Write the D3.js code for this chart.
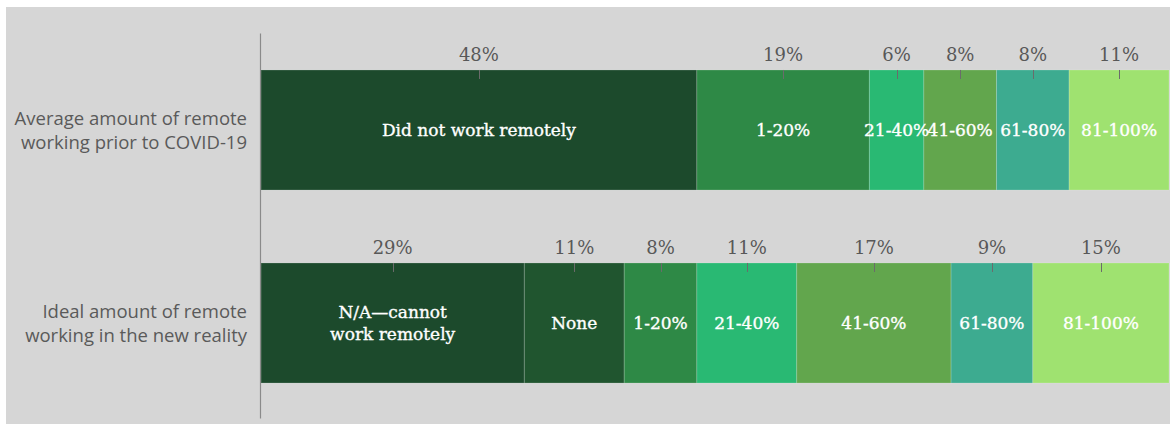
<!DOCTYPE html>
<html>
<head>
<meta charset="utf-8">
<script src="https://cdn.jsdelivr.net/npm/d3@7"></script>
<style>
  html, body { margin: 0; padding: 0; background: #ffffff; }
  svg { display: block; }
</style>
</head>
<body>
<script>
// rows of the chart (category axis)
const rowNames = ["prior", "ideal"];
const rowLabels = [
  ["Average amount of remote", "working prior to COVID-19"],
  ["Ideal amount of remote", "working in the new reality"]
];

// segments per row
const priorSegments = ["Did not work remotely", "1-20%", "21-40%", "41-60%", "61-80%", "81-100%"];
const priorValues = [48, 19, 6, 8, 8, 11];

const idealSegments = ["N/A\u2014cannot\nwork remotely", "None", "1-20%", "21-40%", "41-60%", "61-80%", "81-100%"];
const idealValues = [29, 11, 8, 11, 17, 9, 15];

// colour per segment name
const segmentColors = {
  "Did not work remotely": "#1c4a2c",
  "N/A\u2014cannot\nwork remotely": "#1c4a2c",
  "None": "#20552f",
  "1-20%": "#2e8946",
  "21-40%": "#29b973",
  "41-60%": "#62a64d",
  "61-80%": "#3dab90",
  "81-100%": "#9fe270"
};

const width = 1170;
const height = 426;

const svg = d3
  .select("body")
  .append("svg")
  .attr("width", width)
  .attr("height", height);

// grey panel
svg
  .append("rect")
  .attr("x", 6)
  .attr("y", 7)
  .attr("width", width - 6)
  .attr("height", 417)
  .attr("fill", "#d6d6d6");

const x = d3.scaleLinear().domain([0, 100]).range([261, 1169]);
const y = d3
  .scaleBand()
  .domain(rowNames)
  .range([33.5, 419.5])
  .paddingInner(0.378)
  .paddingOuter(0.189);

// build stacked data for each row
function stackRow(row, names, values) {
  let start = 0;
  return names.map((name, i) => {
    const d = { row: row, name: name, value: values[i], x0: start, x1: start + values[i] };
    start += values[i];
    return d;
  });
}
const segments = stackRow("prior", priorSegments, priorValues).concat(
  stackRow("ideal", idealSegments, idealValues)
);

// bars
svg
  .append("g")
  .selectAll("rect")
  .data(segments)
  .enter()
  .append("rect")
  .attr("x", (d) => x(d.x0))
  .attr("y", (d) => y(d.row))
  .attr("width", (d) => x(d.x1) - x(d.x0))
  .attr("height", y.bandwidth())
  .attr("fill", (d) => segmentColors[d.name])
  .attr("stroke", "rgba(255,255,255,0.18)")
  .attr("stroke-width", 1);

// axis line
svg
  .append("line")
  .attr("x1", x(0) - 0.5)
  .attr("x2", x(0) - 0.5)
  .attr("y1", y.range()[0])
  .attr("y2", y.range()[1] - 1)
  .attr("stroke", "#8a8a8a")
  .attr("stroke-width", 1.2);

// small ticks at the top of each segment
svg
  .append("g")
  .selectAll("line")
  .data(segments)
  .enter()
  .append("line")
  .attr("x1", (d) => Math.round(x((d.x0 + d.x1) / 2)) + 0.5)
  .attr("x2", (d) => Math.round(x((d.x0 + d.x1) / 2)) + 0.5)
  .attr("y1", (d) => y(d.row))
  .attr("y2", (d) => y(d.row) + 9)
  .attr("stroke", "#6b6b6b")
  .attr("stroke-width", 1);

// percentage labels above bars
svg
  .append("g")
  .selectAll("text")
  .data(segments)
  .enter()
  .append("text")
  .attr("x", (d) => x((d.x0 + d.x1) / 2))
  .attr("y", (d) => y(d.row) - 9)
  .attr("text-anchor", "middle")
  .attr("font-family", "DejaVu Serif")
  .attr("font-size", 18)
  .attr("fill", "#585858")
  .text((d) => d.value + "%");

// segment names inside bars
const inner = svg
  .append("g")
  .selectAll("text")
  .data(segments)
  .enter()
  .append("text")
  .attr("x", (d) => x((d.x0 + d.x1) / 2))
  .attr("y", (d) => y(d.row) + y.bandwidth() / 2)
  .attr("text-anchor", "middle")
  .attr("font-family", "DejaVu Serif")
  .attr("font-size", 17)
  .attr("fill", "#ffffff")
  .attr("stroke", "#ffffff")
  .attr("stroke-width", 0.35);

inner.each(function (d) {
  const lines = d.name.split("\n");
  const el = d3.select(this);
  lines.forEach((line, i) => {
    el.append("tspan")
      .attr("x", x((d.x0 + d.x1) / 2))
      .attr("dy", i === 0 ? (lines.length === 1 ? 6 : -5) : 22)
      .text(line);
  });
});

// row labels on the left
const rowText = svg
  .append("g")
  .selectAll("text")
  .data(rowNames)
  .enter()
  .append("text")
  .attr("x", 247)
  .attr("y", (d) => y(d) + y.bandwidth() / 2)
  .attr("text-anchor", "end")
  .attr("font-family", "Open Sans")
  .attr("font-size", 18.5)
  .attr("fill", "#5a5a5a");

rowText.each(function (d, i) {
  const el = d3.select(this);
  rowLabels[i].forEach((line, j) => {
    el.append("tspan")
      .attr("x", 247)
      .attr("dy", j === 0 ? -5 : 24)
      .text(line);
  });
});
</script>
</body>
</html>
